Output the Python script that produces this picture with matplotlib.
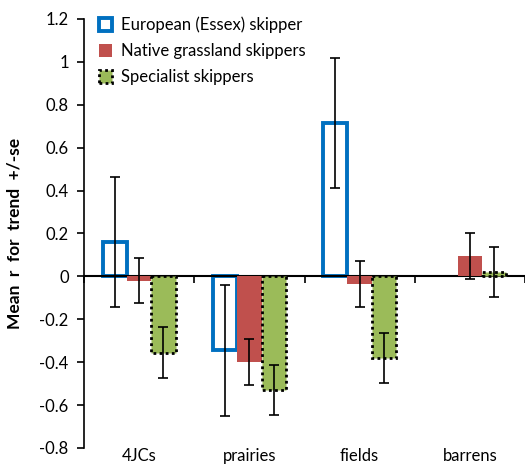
import numpy as np
import matplotlib.pyplot as plt
from matplotlib.patches import Patch

# mean trend r and standard error per habitat
habitats = ["4JCs", "prairies", "fields", "barrens"]
series = ["European (Essex) skipper", "Native grassland skippers", "Specialist skippers"]
essex_mean = [0.16, -0.345, 0.715, np.nan]
essex_se = [0.305, 0.306, 0.305, np.nan]
native_mean = [-0.02, -0.40, -0.035, 0.093]
native_se = [0.105, 0.107, 0.107, 0.107]
special_mean = [-0.355, -0.53, -0.38, 0.02]
special_se = [0.118, 0.117, 0.118, 0.118]

plt.rcParams['font.family'] = ['Lato', 'DejaVu Sans']

blue = '#0070C0'
red = '#C0504D'
green = '#9BBB59'

fig = plt.figure(figsize=(5.25, 4.65), dpi=100)
ax = fig.add_axes([0.16, 0.0366, 0.84, 0.9226])

x = np.arange(len(habitats))
w = 0.22

def draw(offset, means, ses, **style):
    means = np.array(means, dtype=float)
    ses = np.array(ses, dtype=float)
    ok = ~np.isnan(means)
    ax.bar(x[ok] + offset, means[ok], w, **style)
    ax.errorbar(x[ok] + offset, means[ok], yerr=ses[ok], fmt='none',
                ecolor='black', elinewidth=1.2, capsize=3.8, capthick=1.2, zorder=5)

draw(-w, essex_mean, essex_se, facecolor='white', edgecolor=blue, linewidth=2.8, zorder=2)
draw(0, native_mean, native_se, facecolor=red, edgecolor='none', zorder=3)
draw(w, special_mean, special_se, facecolor=green, edgecolor='black',
     linewidth=2, linestyle=(0, (1, 1.2)), zorder=4)

ax.set_xlim(-0.5, len(habitats) - 0.5)
ax.set_ylim(-0.8, 1.2)
ax.set_yticks(np.arange(-0.8, 1.21, 0.2))
ax.set_yticklabels(['-0.8', '-0.6', '-0.4', '-0.2', '0', '0.2', '0.4', '0.6', '0.8', '1', '1.2'])
ax.tick_params(axis='y', labelsize=12, length=5, width=1.2, direction='out', pad=6)

# horizontal axis through zero, ticks between categories
ax.spines['bottom'].set_position(('data', 0))
ax.spines['bottom'].set_linewidth(1.5)
ax.spines['left'].set_linewidth(1.2)
ax.spines['top'].set_visible(False)
ax.spines['right'].set_visible(False)
ax.set_xticks(np.arange(-0.5, len(habitats)))
ax.set_xticklabels([])
ax.tick_params(axis='x', length=5, width=1.2, direction='out')
for xi, name in zip(x, habitats):
    ax.text(xi, -0.031, name, transform=ax.get_xaxis_transform(),
            ha='center', va='baseline', fontsize=12)

ax.set_ylabel("Mean  r  for  trend  +/-se", fontsize=12.5, fontweight='bold', labelpad=12)

handles = [
    Patch(facecolor='white', edgecolor=blue, linewidth=2.8),
    Patch(facecolor=red, edgecolor='none'),
    Patch(facecolor=green, edgecolor='black', linewidth=2, linestyle=(0, (1, 1.2))),
]
ax.legend(handles, series, loc='upper left', bbox_to_anchor=(0.0, 1.04),
          frameon=False, fontsize=12, handlelength=0.8, handleheight=0.8,
          handletextpad=0.5, labelspacing=0.6)

fig.savefig('out.png', dpi=100)
